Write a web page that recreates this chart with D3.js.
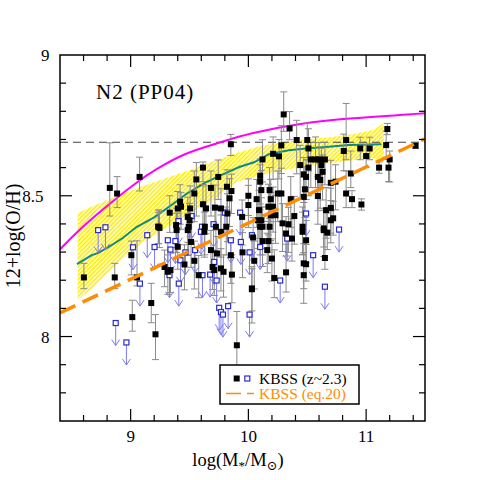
<!DOCTYPE html>
<html><head><meta charset="utf-8">
<script src="https://cdn.jsdelivr.net/npm/d3@7"></script>
<style>body{margin:0;background:#fff}svg{display:block}</style>
</head><body>
<svg id="c" width="480" height="480"></svg>
<script>
// ---- data ----
const blackMass=[8.823,8.885,9.076,9.234,8.603,8.865,9.006,9.054,9.175,9.014,9.211,9.851,9.614,9.558,9.744,9.682,9.541,9.856,9.84,9.42,9.614,9.428,9.4,9.332,9.716,9.767,9.505,9.64,10.0,10.0,9.822,9.485,9.947,9.237,9.493,9.63,9.724,9.812,10.3,10.35,10.41,10.5,10.28,10.21,10.12,10.26,10.51,10.53,10.57,10.6,10.65,10.44,10.51,10.62,10.63,10.47,10.49,10.59,10.61,10.74,10.7,10.59,10.1,10.1,10.11,10.07,10.18,10.25,10.28,10.19,10.36,10.48,10.47,10.09,10.17,10.21,10.23,10.19,10.39,10.66,10.7,10.72,10.11,10.08,10.29,10.34,10.12,10.18,10.46,10.64,10.83,10.81,10.95,11.03,11.0,11.18,11.17,11.2,11.11,11.19,11.42,10.87,10.83,10.88,10.96,9.902,10.03,9.4,9.541,9.578,9.457,9.316,9.71,9.696,9.789,9.86,9.767,9.851,9.626,9.767,9.39,9.513,9.682,9.733,9.95,9.338,9.288,9.485,9.245,10.04,10.12,10.17,10.16,10.2,10.05,10.03,10.22,10.32,10.32,10.37,10.47,10.47,10.65,10.67,10.64,10.1,10.46,10.49,9.386,9.5,9.818,10.49,10.7];
const blackOH=[8.528,8.508,8.567,8.39,8.21,8.21,8.289,8.21,8.119,8.069,8.008,8.683,8.6,8.558,8.567,8.528,8.508,8.517,8.491,8.479,8.47,8.461,8.455,8.44,8.458,8.455,8.455,8.455,8.467,8.5,8.437,8.425,8.425,8.39,8.39,8.39,8.39,8.39,8.789,8.739,8.698,8.698,8.679,8.649,8.629,8.64,8.668,8.629,8.629,8.629,8.629,8.609,8.6,8.609,8.585,8.576,8.567,8.567,8.556,8.55,8.546,8.499,8.571,8.55,8.52,8.488,8.52,8.508,8.508,8.488,8.488,8.523,8.496,8.449,8.461,8.461,8.431,8.431,8.428,8.449,8.457,8.42,8.413,8.413,8.402,8.399,8.39,8.39,8.39,8.384,8.698,8.659,8.668,8.668,8.641,8.737,8.68,8.629,8.6,8.6,8.678,8.579,8.508,8.488,8.469,7.969,8.171,8.319,8.269,8.218,8.256,8.23,8.236,8.247,8.23,8.22,8.242,8.289,8.372,8.372,8.378,8.336,8.307,8.295,8.299,8.236,8.247,8.378,8.386,8.352,8.339,8.339,8.307,8.277,8.269,8.168,8.208,8.228,8.366,8.348,8.26,8.218,8.279,8.369,8.378,8.39,8.372,8.257,8.396,8.413,8.532,8.342,8.413];
const blackErrLo=[0.10,0.05,0.05,0.06,0.04,0.04,0.07,0.03,0.07,0.05,0.09,0.04,0.05,0.13,0.08,0.10,0.10,0.08,0.10,0.08,0.10,0.08,0.07,0.07,0.08,0.10,0.10,0.09,0.08,0.07,0.10,0.09,0.10,0.06,0.10,0.10,0.09,0.10,0.06,0.04,0.12,0.07,0.10,0.09,0.08,0.08,0.08,0.10,0.10,0.10,0.09,0.12,0.10,0.08,0.10,0.10,0.08,0.12,0.10,0.10,0.10,0.10,0.10,0.10,0.10,0.10,0.10,0.10,0.10,0.08,0.10,0.10,0.10,0.10,0.10,0.09,0.10,0.09,0.10,0.10,0.09,0.06,0.10,0.10,0.10,0.10,0.10,0.09,0.10,0.10,0.07,0.07,0.04,0.04,0.04,0.02,0.05,0.08,0.02,0.05,0.01,0.05,0.05,0.03,0.02,0.08,0.08,0.08,0.10,0.08,0.09,0.08,0.09,0.08,0.09,0.10,0.08,0.10,0.09,0.09,0.08,0.09,0.08,0.09,0.09,0.08,0.07,0.09,0.07,0.08,0.09,0.08,0.08,0.08,0.10,0.12,0.07,0.07,0.08,0.08,0.09,0.10,0.04,0.06,0.06,0.10,0.08,0.06,0.08,0.08,0.08,0.08,0.08];
const blackErrHi=[0.16,0.06,0.07,0.06,0.05,0.05,0.05,0.13,0.07,0.06,0.07,0.035,0.02,0.06,0.06,0.06,0.08,0.06,0.07,0.06,0.07,0.05,0.06,0.06,0.08,0.07,0.08,0.08,0.07,0.06,0.07,0.07,0.06,0.05,0.06,0.07,0.06,0.07,0.08,0.06,0.07,0.06,0.07,0.06,0.07,0.06,0.07,0.06,0.08,0.06,0.06,0.07,0.07,0.06,0.06,0.06,0.06,0.07,0.06,0.06,0.08,0.07,0.06,0.06,0.07,0.07,0.08,0.08,0.09,0.07,0.08,0.08,0.07,0.07,0.08,0.07,0.07,0.08,0.07,0.08,0.07,0.06,0.08,0.08,0.07,0.06,0.07,0.08,0.07,0.07,0.13,0.06,0.04,0.04,0.04,0.02,0.05,0.03,0.02,0.03,0.01,0.08,0.08,0.03,0.02,0.12,0.07,0.06,0.07,0.07,0.07,0.06,0.07,0.06,0.06,0.07,0.07,0.06,0.07,0.06,0.06,0.07,0.07,0.06,0.07,0.06,0.06,0.06,0.06,0.07,0.07,0.07,0.06,0.07,0.07,0.08,0.10,0.10,0.06,0.07,0.07,0.08,0.10,0.07,0.07,0.07,0.07,0.07,0.06,0.06,0.06,0.07,0.07];
const limMass=[8.724,8.786,8.873,8.964,9.02,9.079,9.141,9.203,9.406,9.518,9.606,9.704,9.8,9.93,10.49,10.77,9.316,9.38,9.338,9.423,9.465,9.33,9.409,9.61,9.675,9.73,9.71,9.828,9.752,9.767,9.784,10.01,10.01,9.936,9.547,9.851,9.597,10.03,10.1,10.33,10.27,10.55,10.65];
const limOH=[8.378,8.388,8.048,7.979,8.317,8.188,8.36,8.318,8.41,8.428,8.39,8.399,8.44,8.44,8.437,8.38,8.342,8.339,8.309,8.271,8.299,8.218,8.188,8.218,8.22,8.199,8.265,8.108,8.102,8.087,8.078,8.078,8.299,8.336,8.307,8.342,8.372,8.36,8.318,8.348,8.199,8.289,8.177];
const bandMass=[8.55,8.7,8.9,9.1,9.3,9.5,9.7,9.9,10.1,10.3,10.5,10.7,10.9,11.05,11.15];
const bandHi=[8.438,8.467,8.502,8.534,8.563,8.591,8.623,8.652,8.677,8.691,8.701,8.709,8.719,8.733,8.758];
const bandLo=[8.129,8.182,8.264,8.332,8.385,8.438,8.485,8.549,8.573,8.591,8.605,8.616,8.627,8.634,8.62];
const medMass=[8.544,8.67,8.72,8.797,8.93,9.05,9.203,9.347,9.482,9.626,9.769,9.922,10.048,10.175,10.344,10.513,10.682,10.851,11.13];
const medOH=[8.257,8.289,8.296,8.314,8.349,8.389,8.424,8.467,8.509,8.545,8.573,8.602,8.619,8.648,8.662,8.669,8.674,8.68,8.683];
const fitMass=[8.4,8.555,8.823,9.076,9.203,9.457,9.736,10.006,10.429,10.851,11.5];
const fitOH=[8.309,8.378,8.473,8.556,8.591,8.652,8.686,8.722,8.757,8.775,8.793];
const eqMass=[8.4,11.5];
const eqOH=[8.084,8.702];
const solarOH=8.69;
const xMajor=[9,10,11];
const yMajor=[8,8.5,9];
const legendLabels=["KBSS (z~2.3)","KBSS (eq.20)"];
const panelLabel="N2 (PP04)";

// ---- chart ----
const svg=d3.select("#c");
const L=60,R=425,T=55,B=421;
const x=d3.scaleLinear().domain([8.4,11.5]).range([L,R]);
const y=d3.scaleLinear().domain([7.7,9]).range([B,T]);
const FONT="'Liberation Serif', 'DejaVu Serif', serif";

const defs=svg.append("defs");
const pat=defs.append("pattern").attr("id","hatch").attr("patternUnits","userSpaceOnUse")
  .attr("width",3).attr("height",3).attr("patternTransform","rotate(45)");
pat.append("rect").attr("width",3).attr("height",3).attr("fill","#ffffff");
pat.append("rect").attr("width",1.7).attr("height",3).attr("fill","#ffee00");
defs.append("clipPath").attr("id","plotclip").append("rect")
  .attr("x",L).attr("y",T).attr("width",R-L).attr("height",B-T);

const g=svg.append("g").attr("clip-path","url(#plotclip)");

// band
const bandData=bandMass.map((m,i)=>({m,hi:bandHi[i],lo:bandLo[i]}));
g.append("path").datum(bandData)
  .attr("d",d3.area().x(d=>x(d.m)).y0(d=>y(d.lo)).y1(d=>y(d.hi)))
  .attr("fill","url(#hatch)").attr("stroke","none");

// solar dashed line
g.append("line").attr("x1",L).attr("x2",R).attr("y1",y(solarOH)).attr("y2",y(solarOH))
  .attr("stroke","#444").attr("stroke-width",1.1).attr("stroke-dasharray","8,5");

// magenta
g.append("path").datum(fitMass.map((m,i)=>[m,fitOH[i]]))
  .attr("d",d3.line().x(d=>x(d[0])).y(d=>y(d[1])).curve(d3.curveBasis))
  .attr("fill","none").attr("stroke","#ff00ff").attr("stroke-width",2);

// teal median
g.append("path").datum(medMass.map((m,i)=>[m,medOH[i]]))
  .attr("d",d3.line().x(d=>x(d[0])).y(d=>y(d[1])))
  .attr("fill","none").attr("stroke","#0f8a80").attr("stroke-width",2);

// error bars
const blk=blackMass.map((m,i)=>({m,o:blackOH[i],lo:blackErrLo[i],hi:blackErrHi[i]}));
const eb=g.append("g").attr("stroke","#8a8a8a").attr("stroke-width",1);
blk.forEach(d=>{
  const cx=x(d.m), y1=y(d.o+d.hi), y2=y(d.o-d.lo);
  eb.append("line").attr("x1",cx).attr("x2",cx).attr("y1",y1).attr("y2",y2);
  eb.append("line").attr("x1",cx-3.5).attr("x2",cx+3.5).attr("y1",y1).attr("y2",y1);
  eb.append("line").attr("x1",cx-3.5).attr("x2",cx+3.5).attr("y1",y2).attr("y2",y2);
});

// upper limits
const lim=limMass.map((m,i)=>({m,o:limOH[i]}));
const ul=g.append("g");
lim.forEach(d=>{
  const cx=x(d.m), cy=y(d.o), tip=y(d.o-0.08);
  ul.append("line").attr("x1",cx).attr("x2",cx).attr("y1",cy+2.5).attr("y2",tip)
    .attr("stroke","#7b7bf0").attr("stroke-width",1);
  ul.append("path").attr("d",`M${cx-4},${tip-6}L${cx},${tip}L${cx+4},${tip-6}`)
    .attr("fill","none").attr("stroke","#7b7bf0").attr("stroke-width",1);
});
ul.selectAll("rect").data(lim).join("rect")
  .attr("x",d=>x(d.m)-2.5).attr("y",d=>y(d.o)-2.5).attr("width",5).attr("height",5)
  .attr("fill","#fff").attr("stroke","#2b2bd0").attr("stroke-width",1.2);

// black points
g.append("g").selectAll("rect").data(blk).join("rect")
  .attr("x",d=>x(d.m)-3).attr("y",d=>y(d.o)-3).attr("width",6).attr("height",6).attr("fill","#000");

// orange eq.20
g.append("line").attr("x1",x(eqMass[0])).attr("y1",y(eqOH[0])).attr("x2",x(eqMass[1])).attr("y2",y(eqOH[1]))
  .attr("stroke","#ff8c00").attr("stroke-width",3.5).attr("stroke-dasharray","17,8");

// frame
svg.append("rect").attr("x",L).attr("y",T).attr("width",R-L).attr("height",B-T)
  .attr("fill","none").attr("stroke","#000").attr("stroke-width",1.5);

// ticks
const ax=svg.append("g").attr("stroke","#000").attr("stroke-width",1.2);
d3.range(8.4,11.5001,0.2).forEach(v=>{
  const major=xMajor.some(t=>Math.abs(t-v)<1e-6);
  const len=major?12:6, px=x(v);
  if(px<=L+0.5||px>=R-0.5) return;
  ax.append("line").attr("x1",px).attr("x2",px).attr("y1",B).attr("y2",B-len);
  ax.append("line").attr("x1",px).attr("x2",px).attr("y1",T).attr("y2",T+len);
});
d3.range(7.7,9.0001,0.1).forEach(v=>{
  const major=yMajor.some(t=>Math.abs(t-v)<1e-6);
  const len=major?12:6, py=y(v);
  if(py<=T+0.5||py>=B-0.5) return;
  ax.append("line").attr("x1",L).attr("x2",L+len).attr("y1",py).attr("y2",py);
  ax.append("line").attr("x1",R).attr("x2",R-len).attr("y1",py).attr("y2",py);
});

// tick labels
svg.append("g").selectAll("text").data(xMajor).join("text")
  .attr("x",d=>x(d)).attr("y",442).attr("text-anchor","middle")
  .attr("font-family",FONT).attr("font-size",17).text(d=>d);
svg.append("g").selectAll("text").data(yMajor).join("text")
  .attr("x",d=>Number.isInteger(d)?49.5:43.5).attr("y",d=>y(d)+6).attr("text-anchor","end")
  .attr("font-family",FONT).attr("font-size",17).text(d=>d);

// axis titles
const xt=svg.append("text").attr("x",238).attr("y",466).attr("text-anchor","middle")
  .attr("font-family",FONT).attr("font-size",18.5);
xt.append("tspan").text("log(M");
xt.append("tspan").attr("dy",4).attr("font-size",13).text("*");
xt.append("tspan").attr("dy",-4).text("/M");
xt.append("tspan").attr("dy",4).attr("font-size",13).text("⊙");
xt.append("tspan").attr("dy",-4).text(")");

svg.append("text").attr("transform","translate(20,236) rotate(-90)").attr("text-anchor","middle")
  .attr("font-family",FONT).attr("font-size",20).text("12+log(O/H)");

// panel label
svg.append("text").attr("x",96).attr("y",99).attr("font-family",FONT).attr("font-size",21)
  .attr("letter-spacing",1).text(panelLabel);

// legend
const lg=svg.append("g");
lg.append("rect").attr("x",220).attr("y",365).attr("width",139).attr("height",39)
  .attr("fill","#fff").attr("stroke","#000").attr("stroke-width",1.5);
lg.append("rect").attr("x",233.7).attr("y",375.5).attr("width",6).attr("height",6).attr("fill","#000");
lg.append("rect").attr("x",244.8).attr("y",376).attr("width",5).attr("height",5)
  .attr("fill","#fff").attr("stroke","#2b2bd0").attr("stroke-width",1.2);
lg.append("text").attr("x",259).attr("y",383.5).attr("font-family",FONT).attr("font-size",15.5).text(legendLabels[0]);
lg.append("line").attr("x1",226).attr("x2",254).attr("y1",393.5).attr("y2",393.5)
  .attr("stroke","#ff8c00").attr("stroke-width",1.5).attr("stroke-dasharray","15,6");
lg.append("text").attr("x",259).attr("y",399).attr("font-family",FONT).attr("font-size",15.5)
  .attr("fill","#ff8c00").text(legendLabels[1]);
</script>
</body></html>
